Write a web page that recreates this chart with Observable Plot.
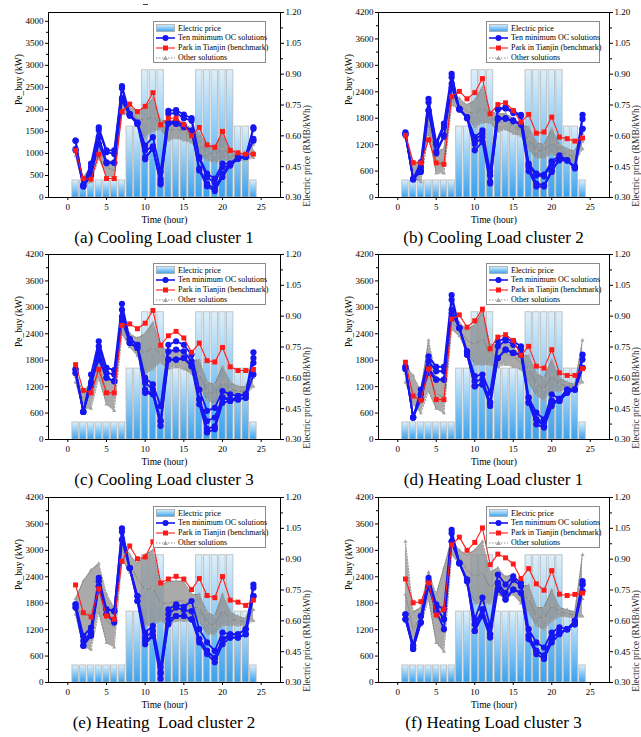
<!DOCTYPE html>
<html><head><meta charset="utf-8">
<script src="https://cdn.jsdelivr.net/npm/d3@7"></script>
<script src="https://cdn.jsdelivr.net/npm/@observablehq/plot@0.6"></script>
<style>
body{margin:0;background:#fff;font-family:"Liberation Serif","Times New Roman",serif;}
#root{position:relative;width:641px;height:737px;overflow:hidden;background:#fff}
.cell{position:absolute;height:243px;}
.cell svg.plot{background:transparent}
.cap{position:absolute;top:228px;font-size:17px;line-height:20px;text-align:center;white-space:pre;color:#000;z-index:3}
.leg{position:absolute;border:1px solid #8a8a8a;background:#fff;box-sizing:border-box;padding-top:1.5px;font-size:8px;line-height:9.8px;color:#000;z-index:2}
.row{display:flex;align-items:center;height:9.8px;white-space:nowrap}
.row svg{margin-left:2px;margin-right:3px;flex:none}
</style></head><body><div id="root"></div>
<script>
// ---------- data ----------
const hours = [1,2,3,4,5,6,7,8,9,10,11,12,13,14,15,16,17,18,19,20,21,22,23,24];
const price = [0.383,0.383,0.383,0.383,0.383,0.383,0.383,0.645,0.645,0.919,0.919,0.919,0.645,0.645,0.645,0.645,0.919,0.919,0.919,0.919,0.919,0.645,0.645,0.383];
const priceTicks = [0.30,0.45,0.60,0.75,0.90,1.05,1.20];
const xTicks = [0,5,10,15,20,25];
const yTicksA = [0,500,1000,1500,2000,2500,3000,3500,4000];
const yTicks = [0,600,1200,1800,2400,3000,3600,4200];
const captions = ["(a) Cooling Load cluster 1","(b) Cooling Load cluster 2","(c) Cooling Load cluster 3","(d) Heating Load cluster 1","(e) Heating  Load cluster 2","(f) Heating Load cluster 3"];
const legendLabels = ["Electric price","Ten minimum OC solutions","Park in Tianjin (benchmark)","Other solutions"];

// (a)
const benchA = [1070,430,415,980,430,430,1950,2120,1950,2070,2380,1650,1800,1800,1655,1400,1590,1195,1140,1500,1070,1015,985,985];
const tenA = [
 [1290,280,770,1590,1070,1070,2530,1900,1700,1180,1370,580,1970,1985,1880,1800,920,540,430,770,770,920,930,1590],
 [1290,250,690,1530,1030,990,2480,1860,1670,1070,1160,420,1900,1920,1800,1745,880,465,330,690,730,880,920,1560],
 [1100,280,540,1370,800,790,2255,1900,1700,920,1100,350,1700,1730,1630,1520,655,315,200,540,770,920,930,1330],
 [1070,250,500,1220,780,790,2200,1860,1670,870,1130,300,1680,1670,1595,1520,615,255,150,465,730,880,920,1290]];
const otherLoA = [950,250,350,900,500,450,1900,1850,1650,1350,1500,1550,1300,1350,1300,1250,1000,850,800,850,850,850,850,900];
const otherMidA = [1050,350,520,1120,680,620,2050,1950,1800,1750,1850,1650,1520,1550,1500,1400,1200,1020,980,1100,980,930,930,1050];
const otherHiA = [1150,450,700,1350,850,800,2200,2050,1950,2050,2250,1750,1750,1750,1700,1550,1450,1200,1150,1400,1100,1000,1000,1200];
// (b)
const benchB = [1410,790,785,1310,785,755,2290,2410,2240,2380,2700,1900,2110,2150,1975,1710,1885,1460,1485,1825,1370,1335,1280,1350];
const tenB = [
 [1480,415,805,2240,1245,1675,2805,2013,1825,1370,1523,580,2013,2050,1950,1877,770,545,520,820,958,845,695,1877],
 [1450,415,700,2165,1200,1600,2730,2000,1800,1300,1450,500,2000,2020,1920,1850,740,500,480,760,900,845,695,1785],
 [1425,415,620,1975,1035,1410,2580,2013,1825,1220,1370,355,1800,1800,1750,1675,695,317,280,620,845,845,695,1560],
 [1425,415,580,1975,1000,1380,2500,2000,1800,1070,1260,320,1780,1790,1730,1650,600,250,250,580,900,845,660,1560]];
const otherLoB = [1350,450,350,1450,550,550,2100,2000,1800,1600,1700,1700,1500,1550,1450,1400,1100,900,900,1000,900,850,800,1100];
const otherMidB = [1420,620,560,1700,800,820,2220,2120,1950,1900,2050,1820,1700,1720,1620,1520,1320,1070,1050,1250,1050,970,920,1270];
const otherHiB = [1500,800,800,1950,1050,1100,2350,2250,2100,2200,2500,1950,1900,1900,1800,1650,1600,1250,1200,1550,1200,1100,1050,1450];
// (c)
const benchC = [1700,1115,1060,1590,1060,1060,2590,2625,2515,2640,2930,2140,2355,2455,2305,1980,2190,1790,1760,2090,1650,1565,1565,1590];
const tenC = [
 [1590,625,1475,2230,1625,1575,3080,2280,2150,1400,1250,760,2150,2230,2150,1925,1135,650,720,1100,1025,985,1025,1980],
 [1590,625,1290,2115,1510,1475,2945,2190,2080,1290,1135,420,2000,2040,2000,1775,910,420,500,950,875,910,950,1850],
 [1510,625,1210,1965,1400,1325,2790,2280,2150,1135,1025,310,1815,1815,1850,1665,800,160,235,835,875,985,1025,1740],
 [1510,625,1290,1815,1400,1325,2715,2190,2080,1060,1025,420,1815,1815,1850,1665,910,240,300,950,925,910,950,1475]];
const otherLoC = [1300,700,700,1400,800,650,2400,2100,1900,1500,1600,1750,1600,1650,1600,1500,1200,900,800,1000,1000,1000,1000,1200];
const otherMidC = [1420,880,1000,1650,1100,980,2550,2250,2100,1950,2100,1950,1800,1850,1780,1650,1480,1100,1020,1300,1150,1100,1100,1400];
const otherHiC = [1550,1050,1300,1900,1400,1300,2700,2400,2300,2400,2650,2150,2000,2050,1950,1800,1800,1300,1250,1650,1300,1200,1200,1600];
// (d)
const benchD = [1755,985,890,1605,905,905,2730,2830,2550,2695,2960,2060,2325,2380,2250,1910,2115,1665,1620,2040,1515,1455,1455,1610];
const tenD = [
 [1650,500,1135,1890,1650,1650,3280,2530,2000,1440,1475,1060,2230,2300,2230,2115,950,610,460,1025,925,1135,1135,1925],
 [1650,500,1025,1775,1550,1550,3170,2530,1925,1325,1360,835,2115,2250,2150,2040,835,460,400,875,875,1060,1135,1815],
 [1600,500,910,1625,1360,1360,2945,2530,2000,1210,1250,760,1850,2040,1965,1925,835,345,270,760,925,1135,1135,1625],
 [1600,500,1025,1515,1360,1360,2870,2530,1925,1210,1250,835,1850,2040,1965,1925,950,460,300,875,875,1060,1135,1625]];
const otherLoD = [1300,800,600,1100,700,600,2500,2350,2000,1700,1700,1700,1650,1700,1650,1600,1300,1000,900,1100,1100,1150,1150,1300];
const otherMidD = [1500,1100,850,1500,1050,950,2650,2500,2250,2150,2300,1920,1900,1950,1880,1750,1600,1250,1150,1450,1250,1220,1200,1600];
const otherHiD = [1700,1450,1100,2250,1400,1350,2800,2650,2500,2600,2900,2150,2150,2200,2100,1900,1900,1500,1400,1800,1400,1300,1250,2250];
// (e)
const benchE = [2215,1585,1490,2125,1510,1435,2750,3100,2810,2850,3195,2260,2350,2410,2350,2110,2360,1975,1925,2405,1870,1825,1750,1870];
const tenE = [
 [1775,1060,1245,2375,1660,1620,3500,2600,1960,1135,1285,345,1660,1775,1720,1850,1210,910,720,1135,1095,1095,1210,2225],
 [1775,945,1135,2300,1660,1620,3425,2600,1960,1020,1170,235,1550,1700,1645,1620,985,720,550,985,1020,1020,1095,2150],
 [1700,835,1060,2185,1550,1360,3240,2600,1850,870,1060,85,1435,1510,1510,1435,910,645,460,870,1020,1020,1095,1960],
 [1700,835,1135,2185,1550,1400,3240,2600,1850,950,1060,200,1320,1510,1510,1435,985,720,550,985,1095,1095,1210,1960]];
const otherLoE = [1550,800,750,1600,900,800,2800,2500,2000,1300,1300,1400,1300,1400,1400,1400,1400,1100,1100,1300,1300,1300,1300,1400];
const otherMidE = [1720,1500,1600,2100,1400,1250,3050,2700,2350,2100,2150,1800,1800,1850,1850,1700,1700,1350,1300,1650,1450,1400,1380,1650];
const otherHiE = [1900,2300,2550,2700,2000,1700,3300,2900,2700,2900,3000,2200,2300,2300,2300,2000,2000,1600,1500,2000,1600,1500,1450,1900];
// (f)
const benchF = [2350,1810,1835,2260,1530,1660,3125,3300,3000,3180,3510,2675,2915,2830,2690,2360,2585,2240,2095,2540,2005,1975,2000,2030];
const tenF = [
 [1550,835,1510,2375,1775,1660,3465,2710,2335,1435,1925,1285,2450,2225,2410,2260,1210,910,795,1135,1250,1210,1400,2300],
 [1550,760,1360,2300,1700,1435,3390,2710,2300,1320,1660,1095,2260,2035,2335,2185,1060,720,610,1020,1135,1210,1320,2225],
 [1435,760,1360,2185,1620,1210,3200,2710,2300,1170,1510,1020,2110,1885,2110,2035,985,645,535,910,1095,1210,1320,2075],
 [1435,835,1510,2185,1700,1435,3200,2710,2335,1170,1660,1095,2260,1885,2110,2035,1060,720,610,1020,1135,1210,1400,2225]];
const otherLoF = [1400,800,1300,1900,900,700,2900,2700,2200,1800,1800,1800,2000,1900,2000,1800,1600,1300,1200,1400,1500,1500,1450,1500];
const otherMidF = [2000,1200,1500,2200,1450,1500,3080,2850,2550,2400,2500,2150,2300,2150,2220,2000,1900,1500,1450,1750,1600,1570,1520,1900];
const otherHiF = [3200,1600,1700,2500,2000,2600,3250,3000,2900,3000,3200,2500,2600,2400,2450,2200,2200,1700,1700,2100,1700,1650,1600,2900];

const panels = [
 {id:"a", bench:benchA, ten:tenA, lo:otherLoA, mid:otherMidA, hi:otherHiA, yt:yTicksA},
 {id:"b", bench:benchB, ten:tenB, lo:otherLoB, mid:otherMidB, hi:otherHiB, yt:yTicks},
 {id:"c", bench:benchC, ten:tenC, lo:otherLoC, mid:otherMidC, hi:otherHiC, yt:yTicks},
 {id:"d", bench:benchD, ten:tenD, lo:otherLoD, mid:otherMidD, hi:otherHiD, yt:yTicks},
 {id:"e", bench:benchE, ten:tenE, lo:otherLoE, mid:otherMidE, hi:otherHiE, yt:yTicks},
 {id:"f", bench:benchF, ten:tenF, lo:otherLoF, mid:otherMidF, hi:otherHiF, yt:yTicks}
];

// ---------- drawing ----------
const BLUE = "#1616f2", RED = "#ff1a1a", GRAY = "#7a7a7a";
const toKW = pr => (pr - 0.3) / 0.9 * 4200;
const root = document.getElementById("root");

function gradDefs(id){
  return () => {
    const defs = d3.create("svg:defs");
    const g = defs.append("linearGradient").attr("id", id).attr("x1",0).attr("y1",0).attr("x2",0).attr("y2",1);
    g.append("stop").attr("offset","0%").attr("stop-color","#dcf0fc");
    g.append("stop").attr("offset","100%").attr("stop-color","#3aa2ee");
    return defs.node();
  };
}

panels.forEach((p, idx) => {
  const col = idx % 2, row = Math.floor(idx / 2);
  const W = col === 0 ? 320 : 321;
  const ML = col === 0 ? 48 : 58, MR = col === 0 ? 40 : 32;
  const gid = "grad" + p.id;
  const bars = hours.map((h, i) => ({h, top: toKW(price[i])}));
  const other = hours.map((h, i) => ({h, lo: p.lo[i], mid: p.mid[i], hi: p.hi[i]}));
  const bench = hours.map((h, i) => ({h, v: p.bench[i]}));
  const ten = p.ten.flatMap((s, k) => s.map((v, i) => ({h: hours[i], v, k})));
  const minor = p.yt.slice(0, -1).map((t, i) => (t + p.yt[i + 1]) / 2);
  const rightMinor = priceTicks.slice(0, -1).map((t, i) => toKW((t + priceTicks[i + 1]) / 2));

  const chart = Plot.plot({
    width: W, height: 230, marginTop: 12, marginBottom: 33, marginLeft: ML, marginRight: MR,
    style: {fontFamily: "'Liberation Serif', serif", fontSize: "9px", background: "transparent", color: "#000"},
    x: {domain: [-2.5, 27.5]},
    y: {domain: [0, 4200]},
    marks: [
      gradDefs(gid),
      Plot.rectY(bars, {x1: d => d.h - 0.41, x2: d => d.h + 0.41, y1: 0, y2: "top", fill: `url(#${gid})`, stroke: "#b8b8b8", strokeWidth: 0.8}),
      Plot.areaY(other, {x: "h", y1: "lo", y2: "hi", fill: "#8e8e8e", fillOpacity: 0.75}),
      ...["lo", "mid", "hi"].map(key => Plot.line(other, {x: "h", y: key, stroke: GRAY, strokeWidth: 0.8, strokeDasharray: "1.5 1.5"})),
      ...["lo", "mid", "hi"].map(key => Plot.dot(other, {x: "h", y: key, symbol: "triangle", r: 1.5, fill: "#a3a3a3"})),
      Plot.line(ten, {x: "h", y: "v", z: "k", stroke: BLUE, strokeWidth: 1.8}),
      Plot.dot(ten, {x: "h", y: "v", r: 3.1, fill: BLUE}),
      Plot.line(bench, {x: "h", y: "v", stroke: RED, strokeWidth: 1.1}),
      Plot.dot(bench, {x: "h", y: "v", symbol: "square", r: 2.8, fill: RED}),
      Plot.frame({stroke: "#000", strokeWidth: 1}),
      Plot.axisX(xTicks, {tickSize: 3, tickPadding: 3, label: null, fontSize: 9, tickFormat: d => String(d)}),
      Plot.axisY(p.yt, {anchor: "left", tickSize: 3, tickPadding: 2, label: null, fontSize: 9, tickFormat: d => String(d)}),
      Plot.axisY(minor, {anchor: "left", tickSize: 2, tickFormat: () => "", label: null}),
      Plot.axisY(priceTicks.map(toKW), {anchor: "right", tickSize: 3, tickPadding: 2, label: null, fontSize: 9,
        tickFormat: v => (v / 4200 * 0.9 + 0.3).toFixed(2)}),
      Plot.axisY(rightMinor, {anchor: "right", tickSize: 2, tickFormat: () => "", label: null}),
      Plot.text(["Pe_buy (kW)"], {text: d => d, frameAnchor: "left", dx: -30, rotate: -90, fontSize: 9.5}),
      Plot.text(["Electric price (RMB/kWh)"], {text: d => d, frameAnchor: "right", dx: 26, rotate: -90, fontSize: 9.5, fill: "#333"}),
      Plot.text(["Time (hour)"], {text: d => d, frameAnchor: "bottom", dy: 25, fontSize: 9.5})
    ]
  });

  const cell = document.createElement("div");
  cell.className = "cell";
  cell.style.left = (col === 0 ? 0 : 320) + "px";
  cell.style.top = [0, 242, 485][row] + "px";
  cell.style.width = W + "px";
  cell.appendChild(chart);

  const cap = document.createElement("div");
  cap.className = "cap";
  cap.style.left = ML + "px";
  cap.style.width = (W - ML - MR) + "px";
  cap.textContent = captions[idx];
  cell.appendChild(cap);

  // legend
  const leg = document.createElement("div");
  leg.className = "leg";
  leg.style.left = (col === 0 ? 153 : 166) + "px";
  leg.style.top = "21px";
  leg.style.width = (col === 0 ? 113 : 114) + "px";
  leg.style.height = "42px";
  const sw = [
    `<svg width="19" height="8"><defs><linearGradient id="lg${p.id}" x1="0" y1="0" x2="0" y2="1"><stop offset="0%" stop-color="#dcf0fc"/><stop offset="100%" stop-color="#3aa2ee"/></linearGradient></defs><rect x="0.5" y="0.5" width="18" height="7" fill="url(#lg${p.id})" stroke="#a8a8a8" stroke-width="0.8"/></svg>`,
    `<svg width="19" height="8"><line x1="0" y1="4" x2="19" y2="4" stroke="${BLUE}" stroke-width="1.6"/><circle cx="9.5" cy="4" r="3" fill="${BLUE}"/></svg>`,
    `<svg width="19" height="8"><line x1="0" y1="4" x2="19" y2="4" stroke="${RED}" stroke-width="1.1"/><rect x="7" y="1.5" width="5" height="5" fill="${RED}"/></svg>`,
    `<svg width="19" height="8"><line x1="0" y1="4" x2="19" y2="4" stroke="${GRAY}" stroke-width="0.8" stroke-dasharray="1.5 1.5"/><path d="M9.5,1.5 L12,6 L7,6 Z" fill="#a3a3a3"/></svg>`
  ];
  leg.innerHTML = legendLabels.map((t, i) => `<div class="row">${sw[i]}<span>${t}</span></div>`).join("");
  cell.appendChild(leg);

  root.appendChild(cell);
});

// stray mark at top of the original figure
const dash = document.createElement("div");
dash.style.cssText = "position:absolute;left:143px;top:4px;width:5px;height:1px;background:#444";
root.appendChild(dash);
</script></body></html>
